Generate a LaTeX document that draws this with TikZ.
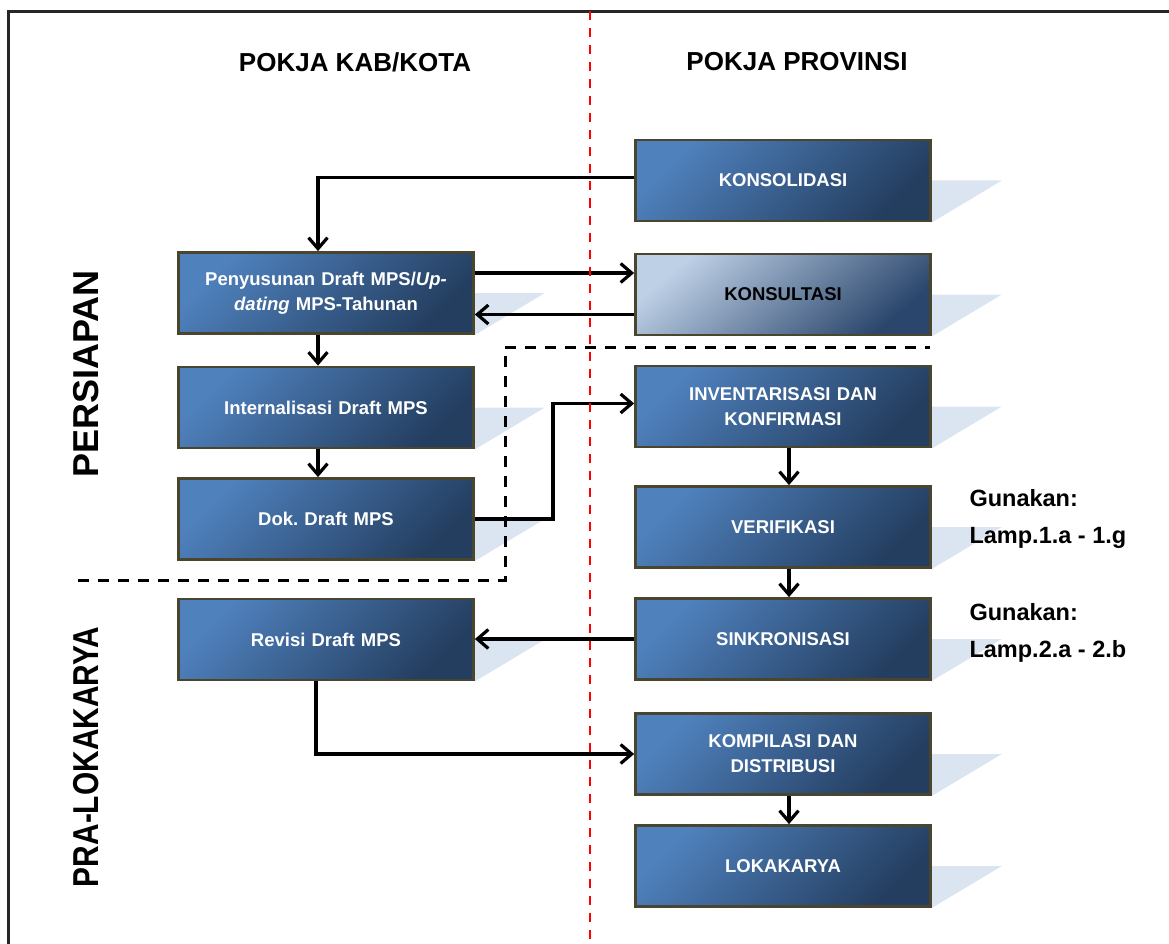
\documentclass[tikz,border=0pt]{standalone}
\usepackage{fontspec}
\setmainfont{Liberation Sans}
\usetikzlibrary{arrows.meta, positioning, backgrounds}

\definecolor{boxlight}{RGB}{79,129,189}
\definecolor{boxdark}{RGB}{36,62,96}
\definecolor{palelight}{RGB}{190,208,230}
\definecolor{paledark}{RGB}{42,70,108}
\definecolor{boxedge}{RGB}{74,69,46}
\definecolor{shadowblue}{RGB}{219,229,241}

\frenchspacing

\begin{document}
\begin{tikzpicture}[x=1pt, y=-1pt, >={Straight Barb[length=11pt, width=19pt]},
	stage/.style={draw=boxedge, line width=2.8pt, minimum width=295pt, minimum height=81pt,
		inner sep=0pt, text width=285pt, align=center, text=white,
		top color=boxlight, bottom color=boxdark, shading angle=45,
		font=\bfseries\fontsize{18.5}{25}\selectfont},
	pale/.style={top color=palelight, bottom color=paledark, shading angle=40, text=black},
	arr/.style={->, line width=3.2pt},
	head/.style={font=\bfseries\fontsize{26}{30}\selectfont},
	phase/.style={rotate=90, font=\bfseries\fontsize{36}{40}\selectfont},
	note/.style={anchor=west, align=left, font=\bfseries\fontsize{23.5}{37}\selectfont}]
	\useasboundingbox (0,0) rectangle (1169,944);

	% frame
	\draw[black!85, line width=2.8pt] (8.5,944) -- (8.5,11.5) -- (1169,11.5);

	% headers
	\node[head] (kab) at (355,62) {POKJA KAB/KOTA};
	\node[head] (prov) at (797,62) {POKJA PROVINSI};

	% phases
	\node[phase] (prep) at (86,374) {PERSIAPAN};
	\node[phase] (pre) at (86,757) {\scalebox{0.83}[1]{PRA-LOKAKARYA}};

	% kab/kota
	\node[stage] (pen) at (326,293) {Penyusunan Draft MPS/\textit{Up-}\\\textit{dating} MPS-Tahunan};
	\node[stage] (intern) at (326,407.5) {Internalisasi Draft MPS};
	\node[stage] (dok) at (326,519) {Dok. Draft MPS};
	\node[stage] (revisi) at (326,639.5) {Revisi Draft MPS};

	% provinsi
	\node[stage] (konsol) at (783,180.5) {KONSOLIDASI};
	\node[stage, pale] (konsul) at (783,294.5) {KONSULTASI};
	\node[stage] (inv) at (783,406.5) {INVENTARISASI DAN\\KONFIRMASI};
	\node[stage] (verif) at (783,527) {VERIFIKASI};
	\node[stage] (sinkron) at (783,639) {SINKRONISASI};
	\node[stage] (kompil) at (783,754) {KOMPILASI DAN\\DISTRIBUSI};
	\node[stage] (loka) at (783,866) {LOKAKARYA};

	\node[note] (lamp1) at (966,518.5) {Gunakan:\\Lamp.1.a - 1.g};
	\node[note] (lamp2) at (966,632.5) {Gunakan:\\Lamp.2.a - 2.b};

	% shadows
	\begin{scope}[on background layer]
		\foreach \n in {pen, intern, dok, revisi, konsol, konsul, inv, verif, sinkron, kompil, loka} {
			\fill[shadowblue] (\n.east) -- ++(70,0) -- (\n.south east) -- cycle;
		}
	\end{scope}

	% flow
	\draw[arr] ([yshift=3pt]konsol.west) -| ([xshift=-8pt]pen.north);
	\draw[arr] ([yshift=20pt]pen.east) -- ([yshift=20pt]pen.east -| konsul.west);
	\draw[arr] ([yshift=-20pt]konsul.west) -- ([yshift=-20pt]konsul.west -| pen.east);
	\draw[arr] ([xshift=-8pt]pen.south) -- ([xshift=-8pt]intern.north);
	\draw[arr] ([xshift=-8pt]intern.south) -- ([xshift=-8pt]dok.north);
	\draw[arr] (dok.east) -- ++(78,0) |- ([yshift=3pt]inv.west);
	\draw[arr] ([xshift=6pt]inv.south) -- ([xshift=6pt]verif.north);
	\draw[arr] ([xshift=6pt]verif.south) -- ([xshift=6pt]sinkron.north);
	\draw[arr] (sinkron.west) -- (sinkron.west -| revisi.east);
	\draw[arr] ([xshift=-10pt]revisi.south) |- (kompil.west);
	\draw[arr] ([xshift=6pt]kompil.south) -- ([xshift=6pt]loka.north);

	% phase border
	\draw[line width=3pt, dash pattern=on 11pt off 9pt]
		(78,580) -- (505,580) -- (505,347) -- (930,347);

	% split
	\draw[red, line width=2pt, dash pattern=on 9pt off 8pt] (590,11.5) -- (590,944);
\end{tikzpicture}
\end{document}
